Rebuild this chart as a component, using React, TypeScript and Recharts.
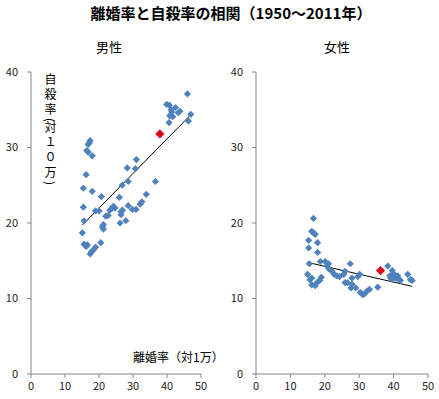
import { ScatterChart, Scatter, XAxis, YAxis, ReferenceLine } from "recharts";

const xTicks = [0, 10, 20, 30, 40, 50];
const yTicks = [0, 10, 20, 30, 40];

// [divorce rate per 10k, suicide rate per 100k]
const malePoints: [number, number][] = [
  [46.0, 37.1], [39.9, 35.7], [40.7, 35.6], [42.5, 35.3], [41.2, 35.0], [41.4, 34.7],
  [43.8, 34.8], [43.3, 34.6], [47.0, 34.4], [40.8, 34.2], [41.7, 34.1], [40.6, 33.3],
  [46.3, 33.5], [17.4, 30.9], [17.1, 30.6], [16.8, 30.4], [16.4, 29.6], [16.8, 29.4],
  [18.0, 28.9], [31.0, 28.4], [28.3, 27.3], [30.7, 27.2], [16.2, 26.4], [28.6, 25.5],
  [26.8, 25.0], [36.6, 25.5], [15.4, 24.6], [18.0, 24.2], [20.7, 23.5], [26.0, 23.4],
  [33.9, 23.8], [32.6, 22.8], [32.1, 22.5], [15.4, 22.1], [19.0, 21.6], [20.0, 21.6],
  [24.2, 22.2], [24.7, 22.0], [23.7, 21.9], [23.2, 21.7], [26.9, 21.7], [26.5, 21.5],
  [28.6, 22.3], [29.8, 21.8], [30.9, 21.8], [22.0, 20.9], [22.7, 21.0], [26.5, 21.1],
  [15.6, 20.3], [26.2, 20.0], [27.9, 20.3], [21.3, 19.8], [21.0, 19.5], [21.3, 19.2],
  [15.1, 18.7], [15.6, 17.2], [16.6, 17.1], [16.2, 16.9], [20.5, 17.4], [19.0, 16.8],
  [18.3, 16.4], [17.8, 16.2], [17.4, 15.9],
];
const maleHighlight: [number, number][] = [[37.9, 31.8]];

const femalePoints: [number, number][] = [
  [16.7, 20.6], [16.2, 18.9], [16.7, 18.7], [17.2, 18.5], [15.3, 17.7], [17.9, 17.4],
  [15.3, 16.7], [17.9, 16.1], [15.5, 14.6], [18.7, 14.9], [20.1, 14.9], [21.1, 14.6],
  [20.6, 14.3], [27.4, 14.6], [21.3, 13.9], [22.1, 13.6], [22.7, 13.2], [23.5, 13.0],
  [24.3, 12.9], [25.9, 13.6], [25.5, 13.2], [30.1, 13.2], [29.6, 12.9], [15.0, 13.2],
  [16.2, 12.7], [15.7, 12.5], [19.0, 12.8], [18.5, 12.4], [17.7, 12.1], [16.2, 11.8],
  [17.2, 11.7], [25.9, 12.1], [26.6, 12.1], [27.9, 12.7], [27.9, 11.9], [27.6, 11.4],
  [29.0, 11.4], [30.3, 10.8], [31.0, 10.5], [31.5, 10.6], [32.3, 11.0], [33.0, 11.2],
  [35.4, 11.5], [38.3, 14.3], [39.6, 13.7], [40.0, 13.3], [38.9, 13.0], [39.1, 12.7],
  [39.6, 12.6], [40.5, 12.7], [41.2, 13.0], [41.5, 12.5], [42.0, 12.4], [44.1, 13.2],
  [44.9, 12.5], [45.4, 12.4],
];
const femaleHighlight: [number, number][] = [[36.2, 13.7]];

const FONT = "'Noto Sans CJK JP', 'Noto Sans', sans-serif";
const AXIS = "#868686";

const toXY = (pts: [number, number][]) => pts.map(([x, y]) => ({ x, y }));

// least squares trend line over the data's x range
function trend(pts: [number, number][]) {
  const n = pts.length;
  const mx = pts.reduce((s, p) => s + p[0], 0) / n;
  const my = pts.reduce((s, p) => s + p[1], 0) / n;
  let sxy = 0, sxx = 0;
  pts.forEach(([x, y]) => { sxy += (x - mx) * (y - my); sxx += (x - mx) ** 2; });
  const b = sxy / sxx;
  const a = my - b * mx;
  const xs = pts.map(p => p[0]);
  const x0 = Math.min(...xs), x1 = Math.max(...xs);
  return [{ x: x0, y: a + b * x0 }, { x: x1, y: a + b * x1 }];
}

const diamond = (r: number, fill: string) => (props: any) => {
  const { cx, cy } = props;
  return <polygon points={`${cx},${cy - r} ${cx + r},${cy} ${cx},${cy + r} ${cx - r},${cy}`} fill={fill} />;
};

function Panel({ points, highlight, width, right }: {
  points: [number, number][]; highlight: [number, number][]; width: number; right: number;
}) {
  const all = [...points, ...highlight];
  return (
    <ScatterChart width={width} height={399} margin={{ top: 72, right, bottom: 0, left: 0 }}>
      <XAxis type="number" dataKey="x" domain={[0, 50]} ticks={xTicks} interval={0} height={25}
        tickSize={4} tickMargin={4} stroke={AXIS} tick={{ fill: "#222", fontSize: 11, fontFamily: FONT }} />
      <YAxis type="number" dataKey="y" domain={[0, 40]} ticks={yTicks} interval={0} width={31}
        tickSize={4} tickMargin={9} stroke={AXIS} tick={{ fill: "#222", fontSize: 11, fontFamily: FONT }} />
      <Scatter data={toXY(points)} shape={diamond(3.6, "#4F81BD")} isAnimationActive={false} />
      <ReferenceLine segment={trend(all)} stroke="#000" strokeWidth={1} ifOverflow="visible" />
      <Scatter data={toXY(highlight)} shape={diamond(4.6, "#E3001B")} isAnimationActive={false} />
    </ScatterChart>
  );
}

const paren = { letterSpacing: -1 };

export default function App() {
  return (
    <div style={{ position: "absolute", left: 0, top: 0, width: 439, height: 399, background: "#fff", fontFamily: FONT, color: "#000" }}>
      <div style={{ position: "absolute", left: 0, top: 0 }}>
        <Panel points={malePoints} highlight={maleHighlight} width={220} right={19} />
      </div>
      <div style={{ position: "absolute", left: 225, top: 0 }}>
        <Panel points={femalePoints} highlight={femaleHighlight} width={214} right={11} />
      </div>
      <div style={{ position: "absolute", left: 5, width: 452, top: 2, textAlign: "center", fontSize: 15, fontWeight: 700, lineHeight: "22px" }}>
        離婚率と自殺率の相関（1950〜2011年）
      </div>
      <div style={{ position: "absolute", left: 79, width: 60, top: 37, textAlign: "center", fontSize: 13, lineHeight: "20px" }}>男性</div>
      <div style={{ position: "absolute", left: 307, width: 60, top: 37, textAlign: "center", fontSize: 13, lineHeight: "20px" }}>女性</div>
      <div style={{ position: "absolute", left: 133, top: 348, fontSize: 12, lineHeight: "18px", whiteSpace: "nowrap" }}>離婚率（対1万）</div>
      <div style={{ position: "absolute", left: 44, top: 73, writingMode: "vertical-rl", fontSize: 12, lineHeight: "12px", letterSpacing: 3, whiteSpace: "nowrap" }}>
        自殺率<span style={paren}>(</span>対１０万<span style={paren}>)</span>
      </div>
    </div>
  );
}
